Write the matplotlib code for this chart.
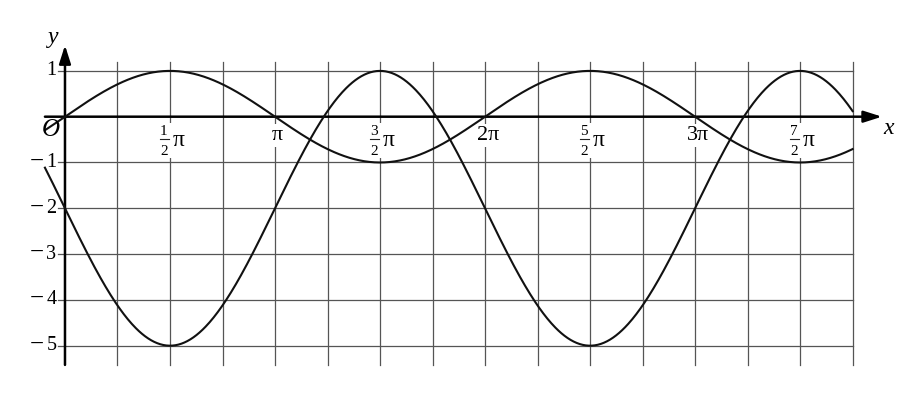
import numpy as np
import matplotlib.pyplot as plt
from matplotlib.patches import Rectangle

plt.rcParams['font.family'] = ['Liberation Serif', 'DejaVu Serif']

# curves: y = amp * sin(x) + shift
amp1, shift1 = 1, 0
amp2, shift2 = -3, -2
x_start = -0.3
x_end = 3.75 * np.pi

# grid / ticks
yticks = [1, -1, -2, -3, -4, -5]
ytick_labels = ['1', '1', '2', '3', '4', '5']
ytick_neg = [False, True, True, True, True, True]
# x labels at multiples of pi: (numerator, denominator) or whole multiple
xtick_pos = [0.5, 1, 1.5, 2, 2.5, 3, 3.5]
xtick_frac = [('1', '2'), None, ('3', '2'), None, ('5', '2'), None, ('7', '2')]
xtick_whole = ['', 'π', '', '2π', '', '3π', '']

fig = plt.figure(figsize=(9, 4), dpi=100)
ax = fig.add_axes([0, 0, 1, 1])
ax.set_xlim(-0.972, 12.49)
ax.set_ylim(-6.186, 2.548)
ax.axis('off')

gc = '#555555'
for k in range(1, 16):
    ax.plot([k * np.pi / 4] * 2, [1.2, -5.42], color=gc, lw=0.9, zorder=1)
for yv in yticks:
    ax.plot([-0.1, x_end], [yv, yv], color=gc, lw=0.9, zorder=1)

# axes with arrows
arr = dict(arrowstyle='-|>,head_length=1.1,head_width=0.35', color='black', lw=1.8,
           shrinkA=0, shrinkB=0)
ax.annotate('', xy=(12.22, 0), xytext=(-0.3, 0), arrowprops=arr, zorder=3)
ax.annotate('', xy=(0, 1.56), xytext=(0, -5.42), arrowprops=arr, zorder=3)

xs = np.linspace(x_start, x_end, 800)
ax.plot(xs, amp1 * np.sin(xs) + shift1, color='#111111', lw=1.5, zorder=4)
ax.plot(xs, amp2 * np.sin(xs) + shift2, color='#111111', lw=1.5, zorder=4)

for yv, lab, neg in zip(yticks, ytick_labels, ytick_neg):
    ax.text(-0.13, yv, lab, ha='right', va='center', fontsize=14.5, zorder=5)
    if neg:
        ax.text(-0.32, yv + 0.02, '−', ha='right', va='center', fontsize=18, zorder=5)

for xp, frac, whole in zip(xtick_pos, xtick_frac, xtick_whole):
    xc = xp * np.pi
    if frac is None:
        ax.text(xc + 0.04, -0.2, whole, ha='center', va='top', fontsize=16, zorder=2,
                bbox=dict(facecolor='white', edgecolor='none', pad=1.5))
    else:
        ax.add_patch(Rectangle((xc - 0.18, -0.9), 0.42, 0.76, facecolor='white',
                               edgecolor='none', zorder=1.5))
        ax.text(xc - 0.09, -0.33, frac[0], ha='center', va='center', fontsize=11, zorder=2)
        ax.plot([xc - 0.155, xc - 0.02], [-0.49, -0.49], color='#222222', lw=0.8, zorder=2)
        ax.text(xc - 0.09, -0.76, frac[1], ha='center', va='center', fontsize=11, zorder=2)
        ax.text(xc + 0.13, -0.52, 'π', ha='center', va='center', fontsize=17, zorder=2)

ax.text(-0.22, -0.3, 'O', ha='center', va='center', fontsize=18, style='italic', zorder=5)
ax.text(12.32, -0.25, 'x', ha='center', va='center', fontsize=17, style='italic')
ax.text(-0.18, 1.73, 'y', ha='center', va='center', fontsize=17, style='italic')

fig.savefig('out.png', dpi=100)
